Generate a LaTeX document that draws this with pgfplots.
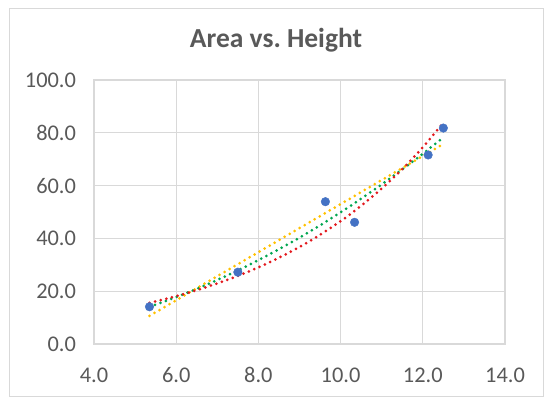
\documentclass[border=0pt]{standalone}
\usepackage{pgfplots}
\pgfplotsset{compat=1.18}
\usepackage{fontspec}
\setmainfont{Carlito}
\definecolor{ptblue}{HTML}{4472C4}
\definecolor{tyellow}{HTML}{FFC000}
\definecolor{tgreen}{HTML}{00A650}
\definecolor{tred}{HTML}{E3191E}
\definecolor{gridc}{HTML}{D9D9D9}
\definecolor{txt}{HTML}{595959}
\frenchspacing
\begin{document}
\begin{tikzpicture}[x=1pt,y=1pt]
\path[use as bounding box] (0,0) rectangle (554,409);
\draw[gridc, line width=1pt] (9,12) rectangle (543,400);
\node[anchor=base, font=\fontsize{27.5}{30}\selectfont\bfseries, text=txt, inner sep=0] at (276,361.3) {Area vs.\ Height};
\begin{axis}[
  at={(94pt,65pt)}, anchor=south west, scale only axis, width=411pt, height=264pt,
  xmin=4, xmax=14, ymin=0, ymax=100,
  xtick={4,6,...,14}, ytick={0,20,...,100},
  grid=major, major grid style={gridc, line width=1.1pt},
  axis line style={gridc, line width=1.1pt},
  major tick length=0pt,
  tick label style={font=\fontsize{22.4}{26}\selectfont, text=txt,
    /pgf/number format/fixed, /pgf/number format/fixed zerofill,
    /pgf/number format/precision=1, /pgf/number format/assume math mode=true},
  xticklabel style={yshift=-20pt},
  yticklabel style={xshift=-14.5pt},
  trend/.style={line width=3pt, line cap=round, dash pattern=on 0pt off 5.8pt, smooth},
]
\addplot[only marks, mark=*, mark size=4.3pt, color=ptblue, fill=ptblue] coordinates {
  (5.35,14.1) (7.50,27.2) (9.63,53.9) (10.34,46.1) (12.13,71.6) (12.50,81.8)
};
% linear trendline
\addplot[trend, tyellow] coordinates {(5.35,10.65) (12.5,75.75)};
% power trendline
\addplot[trend, tgreen] coordinates {
  (5.35,14.08) (6,17.76) (6.5,20.88) (7,24.25) (7.5,27.87) (8,31.76) (8.5,35.90)
  (9,40.29) (9.5,44.94) (10,49.86) (10.5,55.03) (11,60.45) (11.5,66.12) (12,72.06) (12.5,78.27)
};
% exponential trendline
\addplot[trend, tred] coordinates {
  (5.35,15.55) (6,18.13) (6.5,20.40) (7,22.95) (7.5,25.81) (8,29.04) (8.5,32.67)
  (9,36.75) (9.5,41.35) (10,46.52) (10.5,52.34) (11,58.88) (11.5,66.24) (12,74.52) (12.5,83.84)
};
\end{axis}
\end{tikzpicture}
\end{document}
